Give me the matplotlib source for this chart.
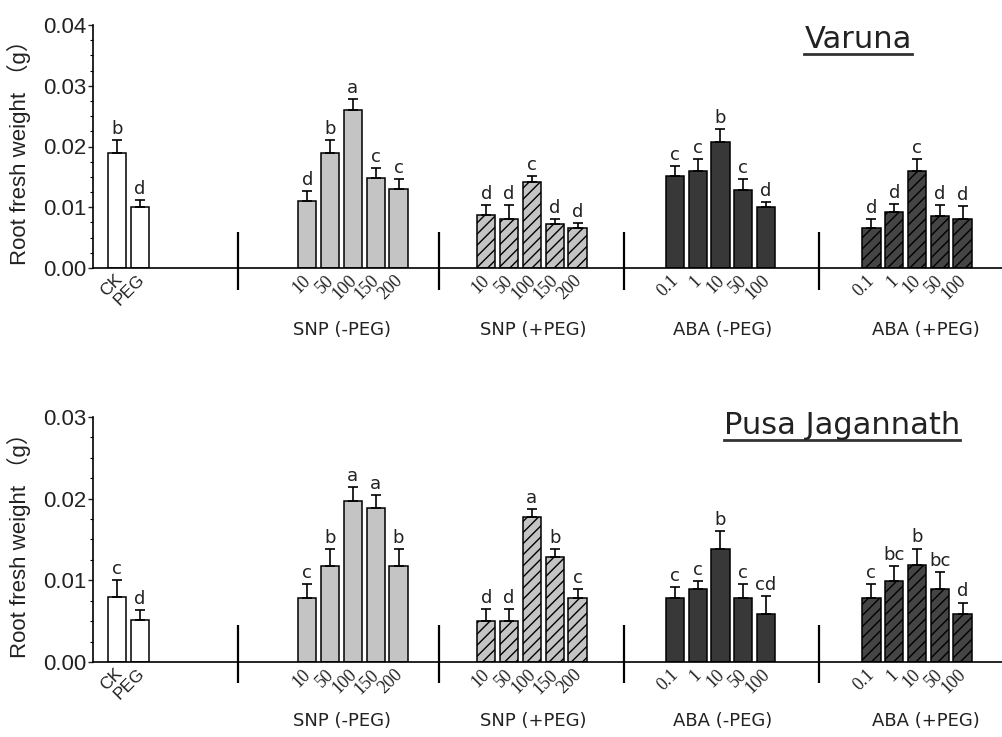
import matplotlib
matplotlib.use("Agg")
import matplotlib.pyplot as plt
import numpy as np
from matplotlib.lines import Line2D
from matplotlib.ticker import MultipleLocator, FormatStrFormatter

# ---- data -------------------------------------------------------------
groups = ["control", "SNP (-PEG)", "SNP (+PEG)", "ABA (-PEG)", "ABA (+PEG)"]
control_labels = ["CK", "PEG"]
snp_labels = ["10", "50", "100", "150", "200"]
aba_labels = ["0.1", "1", "10", "50", "100"]

# Varuna
var_ctrl = [0.0189, 0.0100]
var_ctrl_err = [0.0021, 0.0012]
var_ctrl_sig = ["b", "d"]
var_snp_m = [0.0110, 0.0189, 0.0260, 0.0148, 0.0130]
var_snp_m_err = [0.0017, 0.0021, 0.0018, 0.0016, 0.0017]
var_snp_m_sig = ["d", "b", "a", "c", "c"]
var_snp_p = [0.0087, 0.0080, 0.0142, 0.0073, 0.0066]
var_snp_p_err = [0.0017, 0.0024, 0.0010, 0.0008, 0.0008]
var_snp_p_sig = ["d", "d", "c", "d", "d"]
var_aba_m = [0.0152, 0.0159, 0.0207, 0.0128, 0.0100]
var_aba_m_err = [0.0016, 0.0020, 0.0021, 0.0019, 0.0009]
var_aba_m_sig = ["c", "c", "b", "c", "d"]
var_aba_p = [0.0066, 0.0093, 0.0159, 0.0086, 0.0080]
var_aba_p_err = [0.0015, 0.0013, 0.0020, 0.0018, 0.0022]
var_aba_p_sig = ["d", "d", "c", "d", "d"]

# Pusa Jagannath
pj_ctrl = [0.0080, 0.0052]
pj_ctrl_err = [0.0020, 0.0012]
pj_ctrl_sig = ["c", "d"]
pj_snp_m = [0.0079, 0.0118, 0.0197, 0.0188, 0.0118]
pj_snp_m_err = [0.0017, 0.0020, 0.0017, 0.0016, 0.0020]
pj_snp_m_sig = ["c", "b", "a", "a", "b"]
pj_snp_p = [0.0050, 0.0050, 0.0178, 0.0129, 0.0079]
pj_snp_p_err = [0.0015, 0.0015, 0.0009, 0.0009, 0.0011]
pj_snp_p_sig = ["d", "d", "a", "b", "c"]
pj_aba_m = [0.0079, 0.0090, 0.0138, 0.0079, 0.0059]
pj_aba_m_err = [0.0013, 0.0009, 0.0022, 0.0017, 0.0022]
pj_aba_m_sig = ["c", "c", "b", "c", "cd"]
pj_aba_p = [0.0079, 0.0099, 0.0119, 0.0090, 0.0059]
pj_aba_p_err = [0.0017, 0.0019, 0.0020, 0.0020, 0.0014]
pj_aba_p_sig = ["c", "bc", "b", "bc", "d"]

# ---- layout / style -------------------------------------------------------
W, H = 1003, 737
group_start = [1.05, 9.40, 17.25, 25.52, 34.14]
group_label_x = [None, 10.94, 19.30, 27.63, 36.54]
separators = [6.36, 15.18, 23.31, 31.84]
face = ["white", "#c4c4c4", "#c4c4c4", "#383838", "#454545"]
hatch = [None, None, "///", None, "///"]
BAR_W = 0.8
SANS = "Liberation Sans"
INK = "#222222"

plt.rcParams["hatch.linewidth"] = 1.0
plt.rcParams["font.family"] = "DejaVu Sans"

fig = plt.figure(figsize=(W / 100, H / 100), dpi=100)
ax_top = fig.add_axes([93 / W, 1 - 268 / H, 1 - 93 / W, 243 / H])
ax_bot = fig.add_axes([93 / W, 1 - 662.3 / H, 1 - 93 / W, 245.6 / H])


def draw_panel(ax, series, ymax, sep_span, glabel_y):
    ax.set_xlim(0, 910 / 22.8)
    ax.set_ylim(0, ymax)
    for side in ("top", "right"):
        ax.spines[side].set_visible(False)
    for side in ("left", "bottom"):
        ax.spines[side].set_linewidth(1.2)
    ax.yaxis.set_major_locator(MultipleLocator(0.01))
    ax.yaxis.set_minor_locator(MultipleLocator(0.0025))
    ax.yaxis.set_major_formatter(FormatStrFormatter("%.2f"))
    ax.tick_params(axis="y", which="major", length=3.5, width=1.0, pad=1,
                   labelsize=16, labelfontfamily=SANS, colors=INK)
    ax.tick_params(axis="y", which="minor", length=2, width=0.8)
    ax.set_xticks([])
    ax.set_ylabel("Root fresh weight （g）", fontsize=16,
                  family=[SANS, "Noto Sans CJK SC"], color=INK)
    ax.yaxis.set_label_coords(-0.068, 0.5)

    xform = ax.get_xaxis_transform()
    for gi, (vals, errs, sig) in enumerate(series):
        x = group_start[gi] + np.arange(len(vals))
        ax.bar(x, vals, width=BAR_W, color=face[gi], edgecolor="black",
               linewidth=1.1, hatch=hatch[gi], zorder=2)
        ax.errorbar(x, vals, yerr=[np.zeros(len(vals)), errs], fmt="none",
                    ecolor="black", elinewidth=1.2, capsize=3.5, capthick=1.2,
                    zorder=3)
        for xi, v, e, s in zip(x, vals, errs, sig):
            ax.annotate(s, (xi, v + e), xytext=(0, 1.5), textcoords="offset points",
                        ha="center", va="bottom", fontsize=13, color=INK)

        labels = control_labels if gi == 0 else (snp_labels if gi < 3 else aba_labels)
        if gi == 0:
            dx, dy, fam, fs = 3, -9, SANS, 12.5
        else:
            dx, dy, fam, fs = 1, -10, "Liberation Serif", 13
        for xi, lab in zip(x, labels):
            ax.annotate(lab, (xi, 0), xycoords=xform, xytext=(dx, dy),
                        textcoords="offset pixels", rotation=45,
                        rotation_mode="anchor", ha="right", va="center",
                        fontsize=fs, family=fam, color=INK)

        if group_label_x[gi] is not None:
            ax.text(group_label_x[gi], glabel_y, groups[gi], transform=xform,
                    ha="center", va="center", fontsize=13, color=INK)

    ax.vlines(separators, sep_span[0], sep_span[1], transform=xform,
              colors="black", linewidth=1.6, clip_on=False)


top_series = [
    (var_ctrl, var_ctrl_err, var_ctrl_sig),
    (var_snp_m, var_snp_m_err, var_snp_m_sig),
    (var_snp_p, var_snp_p_err, var_snp_p_sig),
    (var_aba_m, var_aba_m_err, var_aba_m_sig),
    (var_aba_p, var_aba_p_err, var_aba_p_sig),
]
bot_series = [
    (pj_ctrl, pj_ctrl_err, pj_ctrl_sig),
    (pj_snp_m, pj_snp_m_err, pj_snp_m_sig),
    (pj_snp_p, pj_snp_p_err, pj_snp_p_sig),
    (pj_aba_m, pj_aba_m_err, pj_aba_m_sig),
    (pj_aba_p, pj_aba_p_err, pj_aba_p_sig),
]
draw_panel(ax_top, top_series, 0.04, (-0.09, 0.148), -0.255)
draw_panel(ax_bot, bot_series, 0.03, (-0.085, 0.15), -0.239)

# underlined cultivar names
titles = [("Varuna", 858, 48), ("Pusa Jagannath", 842, 434)]
title_artists = []
for name, cx, base in titles:
    t = fig.text(cx / W, 1 - base / H, name, ha="center", va="baseline",
                 fontsize=22, color=INK)
    title_artists.append((t, base))

fig.canvas.draw()
renderer = fig.canvas.get_renderer()
for t, base in title_artists:
    bb = t.get_window_extent(renderer)
    yline = 1 - (base + 6) / H
    fig.add_artist(Line2D([bb.x0 / W, bb.x1 / W], [yline, yline],
                          transform=fig.transFigure, color="#333333", linewidth=2))

fig.savefig("out.png", dpi=100)
